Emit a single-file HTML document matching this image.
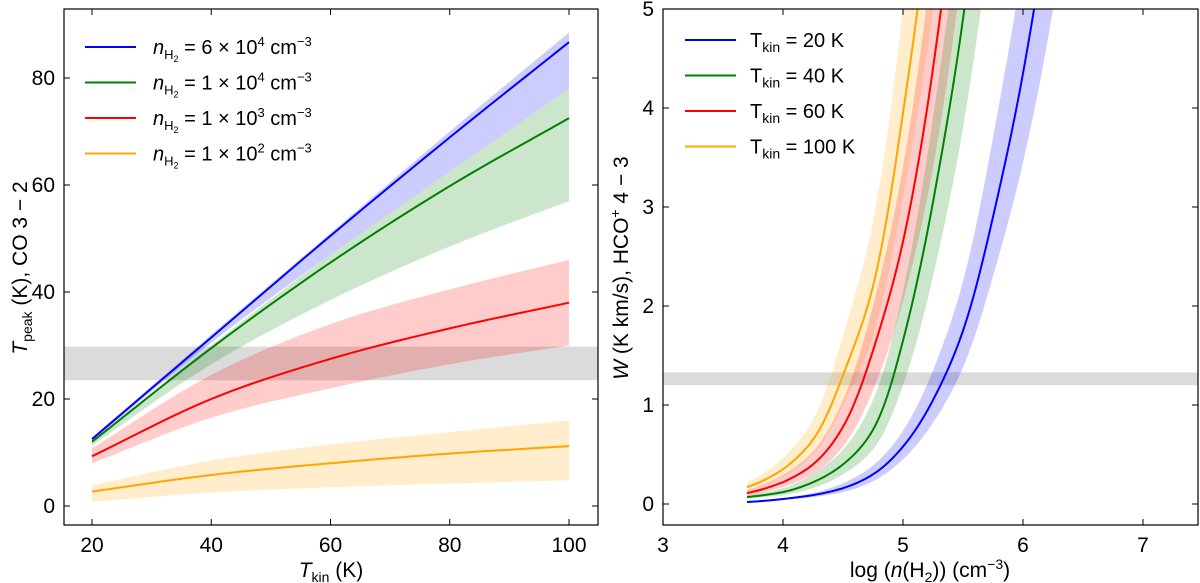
<!DOCTYPE html>
<html><head><meta charset="utf-8">
<style>
body{margin:0;background:#fff;}
svg{display:block;font-family:"Liberation Sans",sans-serif;}
</style></head>
<body>
<svg id="chart" width="1200" height="583" viewBox="0 0 1200 583" xmlns="http://www.w3.org/2000/svg">
<defs>
<clipPath id="clipL"><rect x="64" y="9" width="534" height="516"/></clipPath>
<clipPath id="clipR"><rect x="663" y="9" width="535" height="516"/></clipPath>
</defs>
<g id="left"></g>
<g id="right"></g>
</svg>
<script>
// ---------- Left panel data ----------
const tkin = [20, 40, 60, 80, 100];
const blueLine = [12.5, 31.5, 50.5, 68.9, 86.7];
const blueUp = [12.8, 32, 51, 70, 88.5];
const blueLo = [12.2, 30.5, 47, 62.5, 78];
const greenLine = [12, 29.5, 45.5, 59.8, 72.5];
const greenUp = [12.3, 30, 47, 62.5, 78];
const greenLo = [11.3, 26.5, 38.5, 48.5, 57];
const redLine = [9.3, 20, 27.5, 33.2, 38];
const redUp = [10.8, 24.5, 34, 40.5, 46];
const redLo = [8, 16.5, 22, 26.5, 30];
const orangeLine = [2.7, 5.8, 8, 9.8, 11.2];
const orangeUp = [3.9, 8.5, 11.5, 13.8, 16];
const orangeLo = [0.8, 2.5, 3.5, 4.2, 4.8];
const leftGray = [23.5, 29.8];
const leftXTicks = [20, 40, 60, 80, 100];
const leftYTicks = [0, 20, 40, 60, 80];

// ---------- Right panel data ----------
const logn = [3.7, 4.0, 4.25, 4.5, 4.75, 5.0, 5.25, 5.5, 5.75, 6.0, 6.25];
const w20 = [0.02, 0.05, 0.09, 0.16, 0.3, 0.58, 1.05, 1.75, 2.9, 4.35, 6.3];
const w20Up = [0.025, 0.06, 0.11, 0.21, 0.39, 0.74, 1.35, 2.25, 3.7, 5.5, 8];
const w20Lo = [0.016, 0.04, 0.07, 0.12, 0.23, 0.45, 0.82, 1.38, 2.3, 3.45, 5];
const w40 = [0.07, 0.12, 0.22, 0.4, 0.75, 1.65, 3.05, 4.9, 7.5];
const w40Up = [0.09, 0.16, 0.3, 0.55, 1.05, 2.15, 3.9, 6.2, 9.5];
const w40Lo = [0.055, 0.09, 0.16, 0.3, 0.55, 1.2, 2.3, 3.8, 6];
const w60 = [0.11, 0.22, 0.4, 0.78, 1.55, 2.65, 4.4, 7];
const w60Up = [0.14, 0.29, 0.53, 1.05, 2.0, 3.4, 5.6, 9];
const w60Lo = [0.085, 0.17, 0.3, 0.58, 1.15, 2.05, 3.4, 5.5];
const w100 = [0.17, 0.35, 0.65, 1.3, 2.2, 3.95, 6.3];
const w100Up = [0.22, 0.46, 0.85, 1.7, 2.85, 5.0, 8];
const w100Lo = [0.13, 0.27, 0.5, 1.0, 1.7, 3.1, 5];
const rightGray = [1.2, 1.33];
const rightXTicks = [3, 4, 5, 6, 7];
const rightYTicks = [0, 1, 2, 3, 4, 5];

const NS = "http://www.w3.org/2000/svg";
function mk(tag, attrs, parent){
  const e = document.createElementNS(NS, tag);
  for (const k in attrs) e.setAttribute(k, attrs[k]);
  parent.appendChild(e); return e;
}
// Catmull-Rom sampling; optional log-space in y
function sample(xs, ys, logY){
  const f = logY ? ys.map(v=>Math.log(v)) : ys.slice();
  const out = [];
  const n = xs.length;
  for (let i = 0; i < n - 1; i++){
    const i0 = Math.max(0, i-1), i3 = Math.min(n-1, i+2);
    const y0 = i0 === i ? 2*f[i]-f[i+1] : f[i0];
    const y3 = i3 === i+1 ? 2*f[i+1]-f[i] : f[i3];
    const y1 = f[i], y2 = f[i+1];
    for (let k = 0; k < 12; k++){
      const t = k/12;
      const v = 0.5*((2*y1) + (-y0+y2)*t + (2*y0-5*y1+4*y2-y3)*t*t + (-y0+3*y1-3*y2+y3)*t*t*t);
      out.push([xs[i] + (xs[i+1]-xs[i])*t, logY ? Math.exp(v) : v]);
    }
  }
  out.push([xs[n-1], ys[n-1]]);
  return out;
}
function linePath(xs, ys, X, Y, logY){
  return "M" + sample(xs, ys, logY).map(p => X(p[0]).toFixed(2) + "," + Y(p[1]).toFixed(2)).join(" L");
}
function bandPath(xs, up, lo, X, Y, logY){
  const top = sample(xs, up, logY), bot = sample(xs, lo, logY).reverse();
  return "M" + top.concat(bot).map(p => X(p[0]).toFixed(2) + "," + Y(p[1]).toFixed(2)).join(" L") + " Z";
}
function frame(parent, x0, y0, x1, y1, name){
  const r = mk("rect", {x:x0, y:y0, width:x1-x0, height:y1-y0, fill:"none", stroke:"#000", "stroke-width":1.2}, parent);
  
  
}

// ---------- Left ----------
const L = document.getElementById("left");
const lx0 = 64, lx1 = 598, ly0 = 9, ly1 = 525;
const XL = v => 92 + (v - 20) * (569 - 92) / 80;
const YL = v => 506 - v * (506 - 78) / 80;
const lp = mk("g", {"clip-path":"url(#clipL)"}, L);
let g = mk("rect", {x:lx0, y:YL(leftGray[1]), width:lx1-lx0, height:YL(leftGray[0])-YL(leftGray[1]), fill:"#999", "fill-opacity":0.35}, lp);


const lSeries = [
  ["#0000ff", blueLine, blueUp, blueLo, "n-6e4"],
  ["#008000", greenLine, greenUp, greenLo, "n-1e4"],
  ["#ff0000", redLine, redUp, redLo, "n-1e3"],
  ["#ffa500", orangeLine, orangeUp, orangeLo, "n-1e2"]];
lSeries.forEach(s => {
  const b = mk("path", {d:bandPath(tkin, s[2], s[3], XL, YL, false), fill:s[0], "fill-opacity":0.2, stroke:"none"}, lp);
  
  
});
lSeries.forEach(s => {
  const l = mk("path", {d:linePath(tkin, s[1], XL, YL, false), fill:"none", stroke:s[0], "stroke-width":2}, lp);
  
  
});
frame(L, lx0, ly0, lx1, ly1, "left-plot-frame");
leftXTicks.forEach(t => {
  const x = XL(t);
  mk("line", {x1:x, x2:x, y1:ly1, y2:ly1-6, stroke:"#000"}, L);
  mk("line", {x1:x, x2:x, y1:ly0, y2:ly0+6, stroke:"#000"}, L);
  const tx = mk("text", {x:x, y:552, "font-size":21, "text-anchor":"middle"}, L);
  tx.textContent = t;
  
  
});
leftYTicks.forEach(t => {
  const y = YL(t);
  mk("line", {x1:lx0, x2:lx0+6, y1:y, y2:y, stroke:"#000"}, L);
  mk("line", {x1:lx1, x2:lx1-6, y1:y, y2:y, stroke:"#000"}, L);
  const tx = mk("text", {x:55, y:y+7, "font-size":21, "text-anchor":"end"}, L);
  tx.textContent = t;
  
  
});
</script>
<script>
(function(){
const L = document.getElementById("left");
L.insertAdjacentHTML("beforeend",
 '<text x="331" y="577" font-size="21" text-anchor="middle"><tspan font-style="italic">T</tspan><tspan font-size="14" dy="5">kin</tspan><tspan dy="-5"> (K)</tspan></text>' +
 '<text transform="translate(27,268) rotate(-90)" font-size="21" text-anchor="middle"><tspan font-style="italic">T</tspan><tspan font-size="14" dy="5">peak</tspan><tspan dy="-5"> (K), CO 3 − 2</tspan></text>');
const labels = [["#0000ff","6 × 10","4"],["#008000","1 × 10","4"],["#ff0000","1 × 10","3"],["#ffa500","1 × 10","2"]];
labels.forEach((l,i) => {
  const y = 47 + i*35.5;
  L.insertAdjacentHTML("beforeend",
   '<g><line x1="85" x2="136" y1="'+y+'" y2="'+y+'" stroke="'+l[0]+'" stroke-width="2"/>' +
   '<text x="153" y="'+(y+7)+'" font-size="20"><tspan font-style="italic">n</tspan><tspan font-size="13" dy="5">H</tspan><tspan font-size="9" dy="3">2</tspan><tspan dy="-8"> = '+l[1]+'</tspan><tspan font-size="13" dy="-8">'+l[2]+'</tspan><tspan dy="8"> cm</tspan><tspan font-size="13" dy="-8">−3</tspan></text></g>');
});
})();
</script>
<script>
(function(){
const R = document.getElementById("right");
const rx0 = 663, rx1 = 1198, ry0 = 9, ry1 = 525;
const XR = v => 663 + (v - 3) * 120;
const YR = v => 504 - v * 99;
const rp = mk("g", {"clip-path":"url(#clipR)"}, R);
const gr = mk("rect", {x:rx0, y:YR(rightGray[1]), width:rx1-rx0, height:YR(rightGray[0])-YR(rightGray[1]), fill:"#999", "fill-opacity":0.35}, rp);


const rs = [
  ["#ffa500", w100, w100Up, w100Lo, "tkin-100"],
  ["#ff0000", w60, w60Up, w60Lo, "tkin-60"],
  ["#008000", w40, w40Up, w40Lo, "tkin-40"],
  ["#0000ff", w20, w20Up, w20Lo, "tkin-20"]];
rs.forEach(s => {
  const xs = logn.slice(0, s[1].length);
  const b = mk("path", {d:bandPath(xs, s[2], s[3], XR, YR, true), fill:s[0], "fill-opacity":0.2}, rp);
  
  
});
rs.forEach(s => {
  const xs = logn.slice(0, s[1].length);
  const l = mk("path", {d:linePath(xs, s[1], XR, YR, true), fill:"none", stroke:s[0], "stroke-width":2}, rp);
  
  
});
frame(R, rx0, ry0, rx1, ry1, "right-plot-frame");
rightXTicks.forEach(t => {
  const x = XR(t);
  mk("line", {x1:x, x2:x, y1:ry1, y2:ry1-6, stroke:"#000"}, R);
  mk("line", {x1:x, x2:x, y1:ry0, y2:ry0+6, stroke:"#000"}, R);
  const tx = mk("text", {x:x, y:552, "font-size":21, "text-anchor":"middle"}, R);
  tx.textContent = t;
  
  
});
rightYTicks.forEach(t => {
  const y = YR(t);
  mk("line", {x1:rx0, x2:rx0+6, y1:y, y2:y, stroke:"#000"}, R);
  mk("line", {x1:rx1, x2:rx1-6, y1:y, y2:y, stroke:"#000"}, R);
  const tx = mk("text", {x:654, y:y+7, "font-size":21, "text-anchor":"end"}, R);
  tx.textContent = t;
  
  
});
R.insertAdjacentHTML("beforeend",
 '<text x="930" y="577" font-size="21" text-anchor="middle">log (<tspan font-style="italic">n</tspan>(H<tspan font-size="14" dy="5">2</tspan><tspan dy="-5">)) (cm</tspan><tspan font-size="14" dy="-8">−3</tspan><tspan dy="8">)</tspan></text>' +
 '<text transform="translate(628,268) rotate(-90)" font-size="21" text-anchor="middle"><tspan font-style="italic">W</tspan> (K km/s), HCO<tspan font-size="14" dy="-8">+</tspan><tspan dy="8"> 4 − 3</tspan></text>');
const leg = [["#0000ff","20"],["#008000","40"],["#ff0000","60"],["#ffa500","100"]];
leg.forEach((l,i) => {
  const y = 40 + i*35.5;
  R.insertAdjacentHTML("beforeend",
   '<g><line x1="685" x2="736" y1="'+y+'" y2="'+y+'" stroke="'+l[0]+'" stroke-width="2"/>' +
   '<text x="750" y="'+(y+7)+'" font-size="20">T<tspan font-size="14" dy="5">kin</tspan><tspan dy="-5"> = '+l[1]+' K</tspan></text></g>');
});
})();
</script>
</body></html>
